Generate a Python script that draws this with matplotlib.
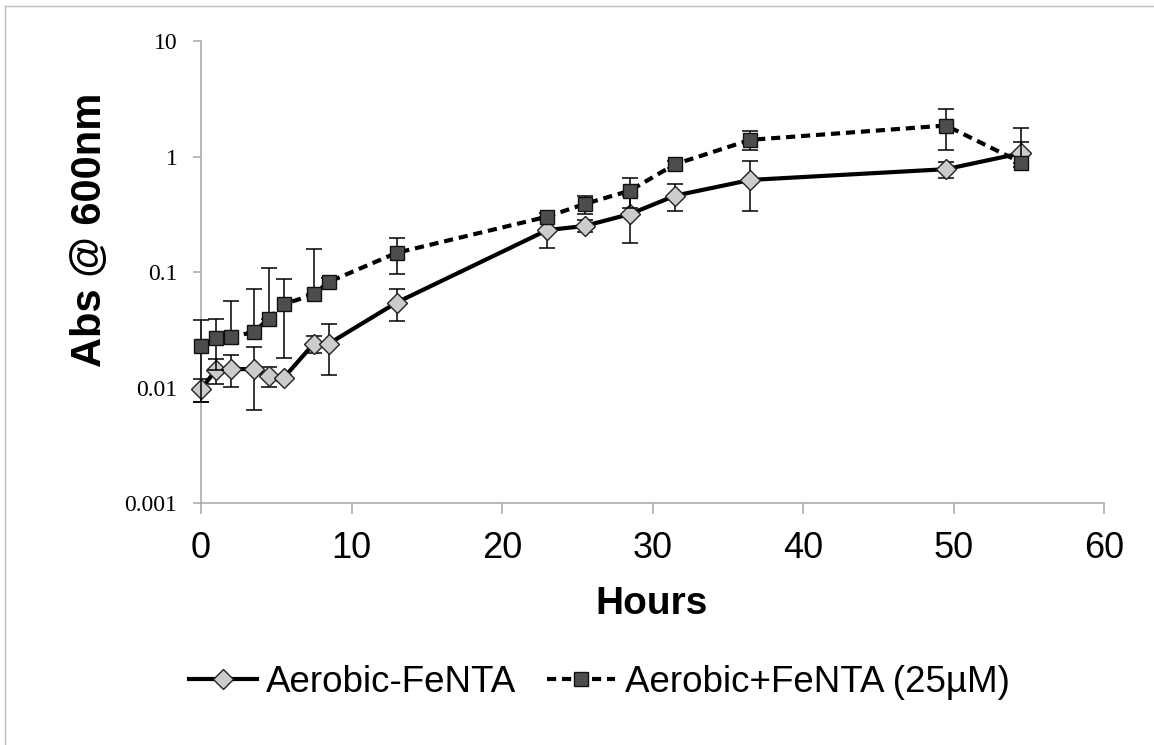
import matplotlib
matplotlib.use("Agg")
import matplotlib.pyplot as plt
import numpy as np
from matplotlib.lines import Line2D
from matplotlib.ticker import FixedLocator, FixedFormatter, NullLocator

# Sampling times (hours)
hours = [0, 1, 2, 3.5, 4.5, 5.5, 7.5, 8.5, 13, 23, 25.5, 28.5, 31.5, 36.5, 49.5, 54.5]

# Aerobic, no FeNTA: mean OD600 and error
abs_minus = [0.0097, 0.0143, 0.0146, 0.0144, 0.0126, 0.0122, 0.0241, 0.0241,
             0.0546, 0.231, 0.251, 0.318, 0.459, 0.628, 0.778, 1.07]
err_minus = [0.0022, 0.0035, 0.0045, 0.0080, 0.0025, 0.0008, 0.0040, 0.0113,
             0.0170, 0.068, 0.030, 0.140, 0.120, 0.290, 0.120, 0.260]

# Aerobic with 25 uM FeNTA
abs_plus = [0.0230, 0.0269, 0.0275, 0.0303, 0.0394, 0.0528, 0.0641, 0.0824,
            0.147, 0.302, 0.389, 0.507, 0.859, 1.396, 1.857, 0.887]
err_plus = [0.0155, 0.0128, 0.0290, 0.0410, 0.0690, 0.0346, 0.0940, 0.0060,
            0.050, 0.020, 0.070, 0.145, 0.060, 0.260, 0.720, 0.890]

series_labels = ["Aerobic-FeNTA", "Aerobic+FeNTA (25µM)"]
x_ticks = [0, 10, 20, 30, 40, 50, 60]
y_ticks = [0.001, 0.01, 0.1, 1, 10]
y_tick_labels = ["0.001", "0.01", "0.1", "1", "10"]

W, H = 1154, 745
fig = plt.figure(figsize=(W / 100, H / 100), dpi=100)
fig.patch.set_facecolor("white")

# chart frame (top and left edges)
frame_c = "#BDBDBD"
fig.add_artist(Line2D([5 / W, 5 / W], [0, 1 - 6 / H], color=frame_c, lw=1.0))
fig.add_artist(Line2D([5 / W, 1], [1 - 6 / H, 1 - 6 / H], color=frame_c, lw=1.0))

ax = fig.add_axes([201 / W, 1 - 503.3 / H, (1104 - 201) / W, (503.3 - 41) / H])
ax.set_yscale("log")
ax.set_xlim(0, 60)
ax.set_ylim(0.001, 10)

axis_c = "#A6A6A6"
for s in ["top", "right"]:
    ax.spines[s].set_visible(False)
for s in ["left", "bottom"]:
    ax.spines[s].set_color(axis_c)
    ax.spines[s].set_linewidth(1.1)

ax.xaxis.set_major_locator(FixedLocator(x_ticks))
ax.yaxis.set_major_locator(FixedLocator(y_ticks))
ax.yaxis.set_major_formatter(FixedFormatter(y_tick_labels))
ax.yaxis.set_minor_locator(NullLocator())
ax.tick_params(axis="x", direction="out", length=8, width=1.1, color=axis_c,
               pad=12, labelsize=26)
ax.tick_params(axis="y", direction="out", length=6, width=1.1, color=axis_c,
               pad=11, labelsize=17)
for lab in ax.get_xticklabels():
    lab.set_fontfamily("Liberation Sans")
for lab in ax.get_yticklabels():
    lab.set_fontfamily("Liberation Serif")


def lower_err(v, e):
    v = np.asarray(v)
    e = np.asarray(e)
    # bars that would fall below zero are not shown on a log axis
    return np.where(v - e > 0, e, 0.0)


def unclip(container):
    for art in container.lines[1] + container.lines[2]:
        art.set_clip_on(False)


# series without FeNTA
eb1 = ax.errorbar(hours, abs_minus, yerr=[lower_err(abs_minus, err_minus), err_minus],
                  fmt="none", ecolor="black", elinewidth=1.1, capsize=5.5,
                  capthick=1.1, zorder=2)
unclip(eb1)
ln1, = ax.plot(hours, abs_minus, "-", color="black", lw=3.0,
               marker="D", ms=10.5, mfc="#CCCCCC", mec="#222222", mew=1.0,
               zorder=3, label=series_labels[0], clip_on=False)

# series with FeNTA
eb2 = ax.errorbar(hours, abs_plus, yerr=[lower_err(abs_plus, err_plus), err_plus],
                  fmt="none", ecolor="black", elinewidth=1.1, capsize=5.5,
                  capthick=1.1, zorder=4)
unclip(eb2)
ln2, = ax.plot(hours, abs_plus, "--", color="black", lw=3.0, dashes=(2.2, 1.4),
               marker="s", ms=10, mfc="#4D4D4D", mec="#111111", mew=1.0,
               zorder=5, label=series_labels[1], clip_on=False)

# axis titles
fig.text(90 / W, 1 - 230 / H, "Abs @ 600nm", rotation=90, ha="center",
         va="center", fontsize=30, fontweight="bold", family="Liberation Sans")
fig.text(652 / W, 1 - 604 / H, "Hours", ha="center", va="center",
         fontsize=28, fontweight="bold", family="Liberation Sans")

leg = fig.legend(handles=[ln1, ln2], loc="center", ncol=2,
                 bbox_to_anchor=(599 / W, 1 - 682 / H), frameon=False,
                 prop={"family": "Liberation Sans", "size": 26.5},
                 handlelength=1.85, handletextpad=0.25, columnspacing=0.85,
                 numpoints=1, borderpad=0, borderaxespad=0)

fig.savefig("out.png", dpi=100, facecolor="white")
